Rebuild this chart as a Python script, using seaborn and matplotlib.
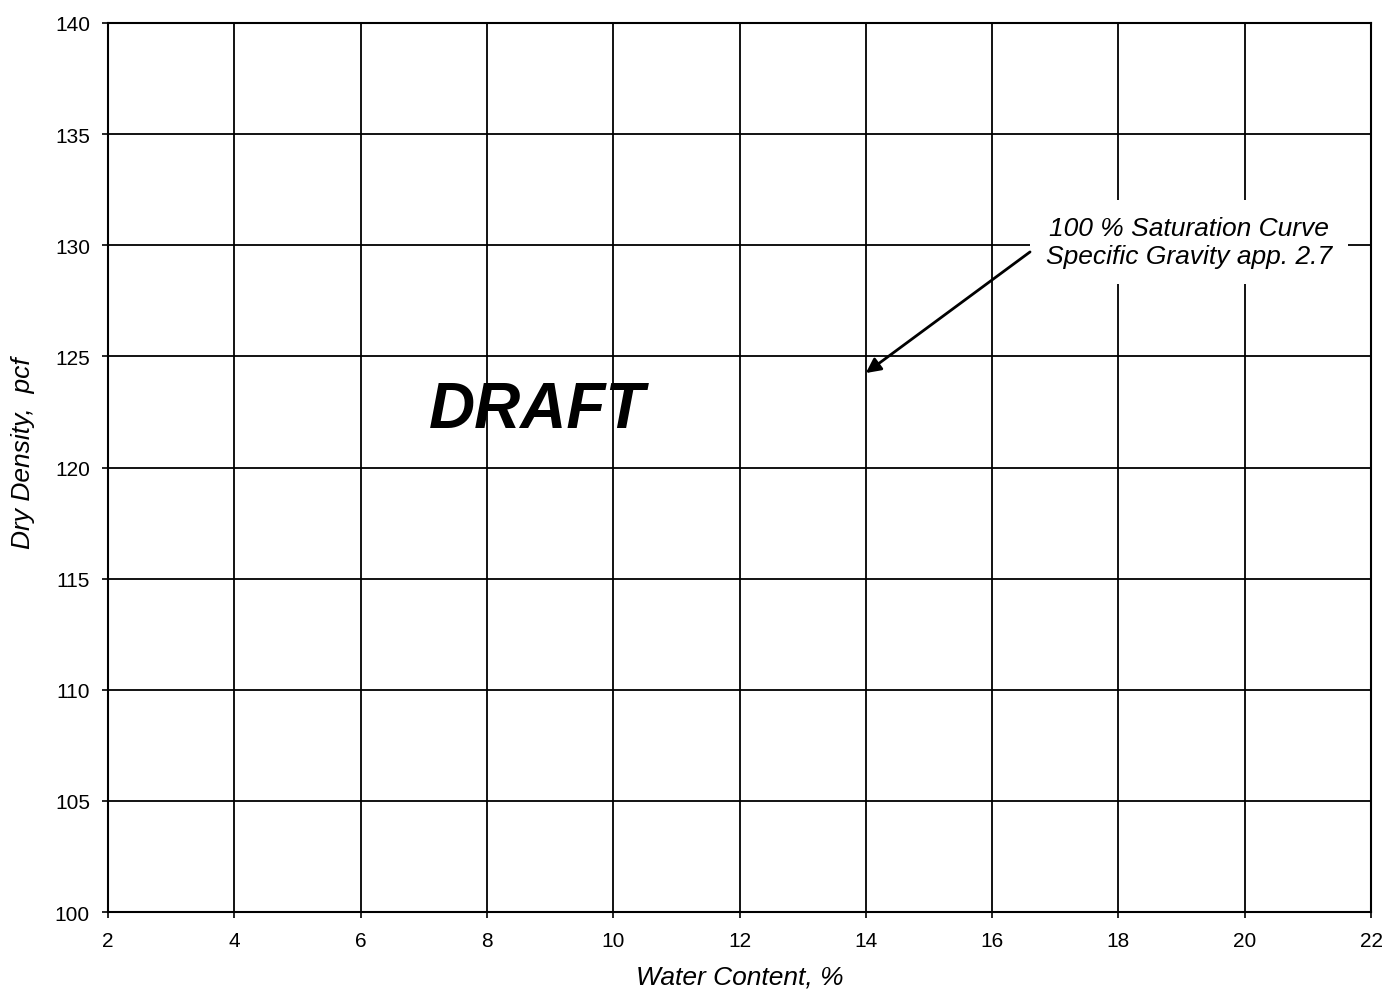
import matplotlib
matplotlib.use('Agg')
import matplotlib.pyplot as plt
import seaborn as sns
import numpy as np

# axis ranges and ticks
x_ticks = [2, 4, 6, 8, 10, 12, 14, 16, 18, 20, 22]
y_ticks = [100, 105, 110, 115, 120, 125, 130, 135, 140]

# annotation: text position and arrow (start / tip) in data units
note_text = '100 % Saturation Curve\nSpecific Gravity app. 2.7'
note_xy = (19.12, 130.15)
arrow_start = (16.6, 129.7)
arrow_tip = (14.0, 124.25)

# watermark
draft_text = 'DRAFT'
draft_xy = (8.8, 122.6)

sns.set_theme(style='white')
plt.rcParams['font.family'] = ['Liberation Sans', 'DejaVu Sans']

fig = plt.figure(figsize=(13.88, 10.04), dpi=100)
ax = fig.add_axes([0.0778, 0.0906, 0.9100, 0.8855])

# empty series, the chart only carries the grid
sns.lineplot(x=np.array([], dtype=float), y=np.array([], dtype=float), ax=ax)

ax.set_xlim(x_ticks[0], x_ticks[-1])
ax.set_ylim(y_ticks[0], y_ticks[-1])
ax.set_xticks(x_ticks)
ax.set_yticks(y_ticks)
ax.grid(True, color='black', linewidth=1.3)
ax.set_axisbelow(True)
for s in ax.spines.values():
    s.set_color('black')
    s.set_linewidth(1.5)
    s.set_visible(True)

ax.tick_params(axis='both', which='major', direction='out', length=4, width=1.2,
               color='black', labelsize=15, labelcolor='black', pad=9,
               bottom=True, left=True)
ax.tick_params(axis='x', pad=10)

ax.set_xlabel('Water Content, %', fontsize=19, style='italic', color='black', labelpad=10)
ax.set_ylabel('Dry Density,  pcf', fontsize=19, style='italic', color='black')
ax.yaxis.set_label_coords(-0.058, 0.517)

ax.text(draft_xy[0], draft_xy[1], draft_text, fontsize=46, fontweight='bold',
        style='italic', ha='center', va='center', color='black', zorder=5)

ax.text(note_xy[0], note_xy[1], note_text, fontsize=19, style='italic',
        ha='center', va='center', color='black', linespacing=1.2, zorder=5,
        bbox=dict(boxstyle='square,pad=0.6', facecolor='white', edgecolor='none'))

ax.annotate('', xy=arrow_tip, xytext=arrow_start, zorder=6,
            arrowprops=dict(arrowstyle='-|>', color='black', lw=2,
                            mutation_scale=22, shrinkA=0, shrinkB=0))

fig.savefig('out.png', dpi=100)
